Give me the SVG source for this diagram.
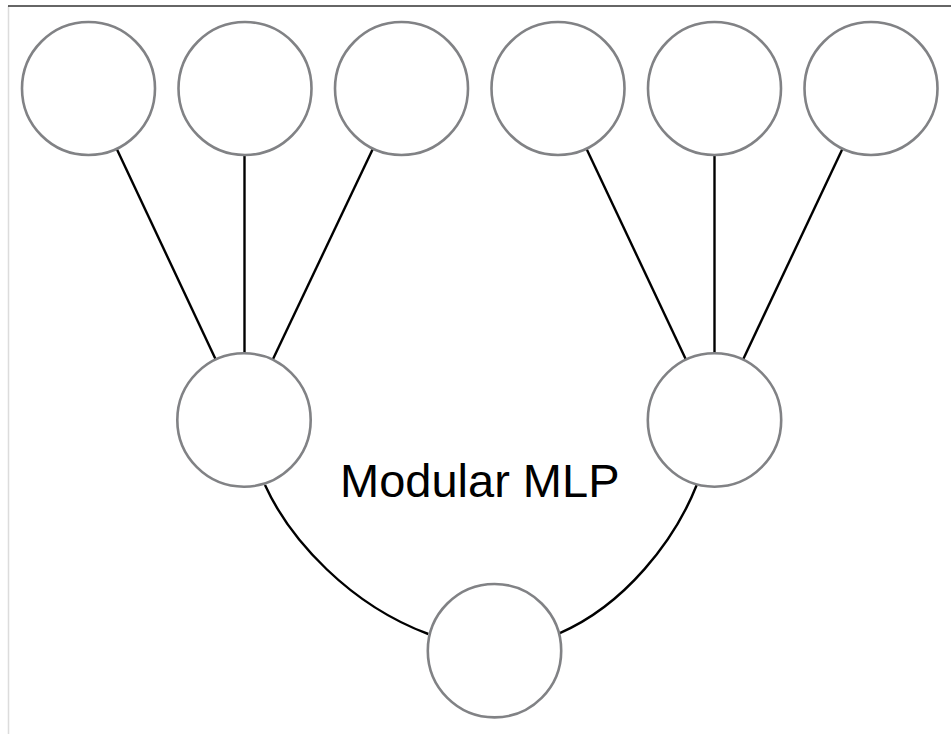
<svg xmlns="http://www.w3.org/2000/svg" width="951" height="734" viewBox="0 0 951 734">
  <style>
    .node { fill: #ffffff; stroke: #818285; stroke-width: 2.6; }
    .edge { fill: none; stroke: #000000; stroke-width: 2.4; }
    .label { font-family: "Liberation Sans", Arial, sans-serif; font-size: 47px; fill: #000000; }
  </style>
  <rect width="951" height="734" fill="#ffffff"/>
  <!-- frame -->
  <line x1="8.5" y1="6" x2="8.5" y2="734" stroke="#dcdcdc" stroke-width="1.5"/>
  <line x1="8" y1="6" x2="951" y2="6" stroke="#333333" stroke-width="1.5"/>

  <g id="connectors">
    <line class="edge" x1="116.9" y1="149.2" x2="215.6" y2="359.3"/>
    <line class="edge" x1="244.5" y1="155.5" x2="244.5" y2="353"/>
    <line class="edge" x1="372.8" y1="149" x2="272.8" y2="359.5"/>
    <line class="edge" x1="586.6" y1="149.1" x2="685.9" y2="359.4"/>
    <line class="edge" x1="714.5" y1="155.5" x2="714.5" y2="353"/>
    <line class="edge" x1="842.4" y1="149.1" x2="743.1" y2="359.4"/>
    <path class="edge" d="M265,485 C290,540 350,605 428.3,634"/>
    <path class="edge" d="M696.7,485 C675,540 625,605 559.3,633.3"/>
  </g>

  <g id="in1"><circle class="node" cx="88.5" cy="88.5" r="66.5"/></g>
  <g id="in2"><circle class="node" cx="245" cy="88.5" r="66.5"/></g>
  <g id="in3"><circle class="node" cx="401.5" cy="88.5" r="66.5"/></g>
  <g id="in4"><circle class="node" cx="558" cy="88.5" r="66.5"/></g>
  <g id="in5"><circle class="node" cx="714.5" cy="88.5" r="66.5"/></g>
  <g id="in6"><circle class="node" cx="871" cy="88.5" r="66.5"/></g>
  <g id="hidden-left"><circle class="node" cx="244" cy="420" r="66.7"/></g>
  <g id="hidden-right"><circle class="node" cx="714.5" cy="420" r="66.7"/></g>
  <g id="output"><circle class="node" cx="494.5" cy="650.7" r="66.7"/></g>

  <text class="label" x="340" y="497">Modular MLP</text>
</svg>
